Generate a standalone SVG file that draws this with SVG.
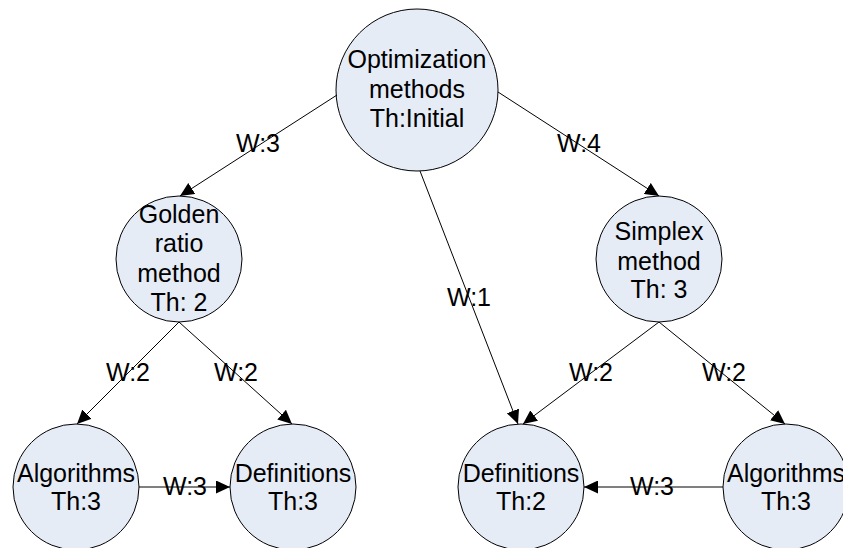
<svg xmlns="http://www.w3.org/2000/svg" width="843" height="548" viewBox="0 0 843 548">
<style>
  .node circle { fill: #E6ECF6; stroke: #000; stroke-width: 1; }
  text { font-family: "Liberation Sans", Arial, sans-serif; font-size: 25px; fill: #000; text-anchor: middle; }
  .edge { stroke: #000; stroke-width: 1; fill: none; marker-end: url(#arrow); }
</style>
<defs>
  <marker id="arrow" markerUnits="userSpaceOnUse" markerWidth="15" markerHeight="13" refX="14" refY="6.5" orient="auto">
    <path d="M0,0 L14,6.5 L0,13 z" fill="#000"/>
  </marker>
</defs>
<g id="nodes">
  <g id="n-opt" class="node">
    <circle cx="417" cy="90" r="81"/>
    <text x="417" y="68">Optimization</text>
    <text x="417" y="98">methods</text>
    <text x="417" y="127">Th:Initial</text>
  </g>
  <g id="n-golden" class="node">
    <circle cx="179" cy="259" r="63"/>
    <text x="179" y="223">Golden</text>
    <text x="179" y="252">ratio</text>
    <text x="179" y="282">method</text>
    <text x="179" y="311">Th: 2</text>
  </g>
  <g id="n-simplex" class="node">
    <circle cx="659" cy="259" r="63"/>
    <text x="659" y="240">Simplex</text>
    <text x="659" y="270">method</text>
    <text x="659" y="298">Th: 3</text>
  </g>
  <g id="n-alg-left" class="node">
    <circle cx="76" cy="487" r="63"/>
    <text x="76" y="482">Algorithms</text>
    <text x="76" y="510">Th:3</text>
  </g>
  <g id="n-def-left" class="node">
    <circle cx="293" cy="487" r="63"/>
    <text x="293" y="482">Definitions</text>
    <text x="293" y="510">Th:3</text>
  </g>
  <g id="n-def-right" class="node">
    <circle cx="521" cy="487" r="63"/>
    <text x="521" y="482">Definitions</text>
    <text x="521" y="510">Th:2</text>
  </g>
  <g id="n-alg-right" class="node">
    <circle cx="786" cy="487" r="63"/>
    <text x="786" y="482">Algorithms</text>
    <text x="786" y="510">Th:3</text>
  </g>
</g>
<g id="connectors">
  <line class="edge" x1="337" y1="95" x2="180" y2="196"/>
  <line class="edge" x1="498" y1="92" x2="659" y2="196"/>
  <line class="edge" x1="420" y1="171" x2="518" y2="424"/>
  <line class="edge" x1="179" y1="322" x2="77" y2="424"/>
  <line class="edge" x1="179" y1="322" x2="292" y2="424"/>
  <line class="edge" x1="659" y1="322" x2="523" y2="424"/>
  <line class="edge" x1="659" y1="322" x2="785" y2="424"/>
  <line class="edge" x1="139" y1="487" x2="230" y2="487"/>
  <line class="edge" x1="723" y1="487" x2="584" y2="487"/>
  <text x="258" y="152">W:3</text>
  <text x="579" y="152">W:4</text>
  <text x="469" y="306">W:1</text>
  <text x="128" y="381">W:2</text>
  <text x="236" y="381">W:2</text>
  <text x="591" y="381">W:2</text>
  <text x="724" y="381">W:2</text>
  <text x="185" y="495">W:3</text>
  <text x="652" y="495">W:3</text>
</g>
</svg>
